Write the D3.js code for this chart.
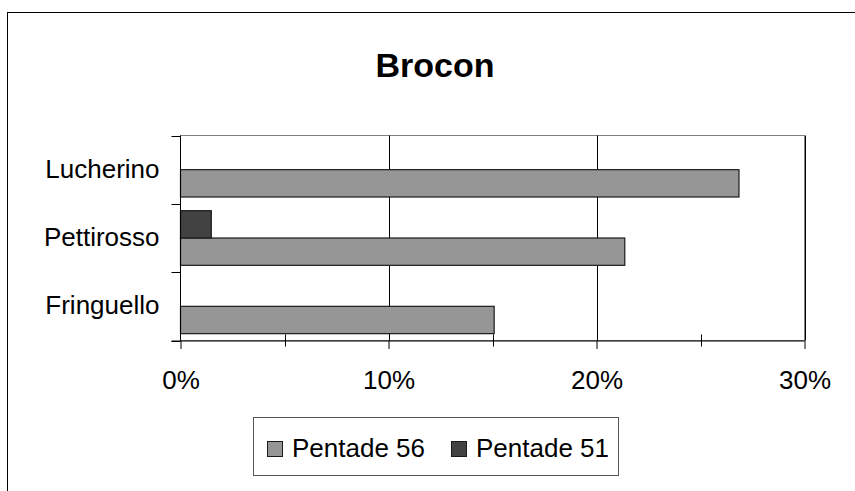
<!DOCTYPE html>
<html>
<head>
<meta charset="utf-8">
<script src="https://cdn.jsdelivr.net/npm/d3@7"></script>
<style>
  html, body { margin: 0; padding: 0; background: #fff; }
  svg { display: block; }
  text { font-family: "Liberation Sans", Arial, sans-serif; fill: #000; }
</style>
</head>
<body>
<svg id="chart" width="855" height="491"></svg>
<script>
// Share of captures per species at the Brocon station
const categories = ["Lucherino", "Pettirosso", "Fringuello"];
const seriesNames = ["Pentade 56", "Pentade 51"];
const pentade56 = [0.2685, 0.2136, 0.1508];
const pentade51 = [0, 0.0148, 0];
const seriesColors = ["#969696", "#424242"];
const majorTicks = [0, 0.1, 0.2, 0.3];
const minorTicks = [0.05, 0.15, 0.25];
const tickLabels = ["0%", "10%", "20%", "30%"];
const title = "Brocon";

const series = seriesNames.map((name, i) => ({
  name,
  color: seriesColors[i],
  values: i === 0 ? pentade56 : pentade51
}));

const svg = d3.select("#chart");
const plot = { left: 180.5, right: 804.5, top: 135.5, bottom: 340.5 };

// Outer chart frame (runs past the right and bottom edges)
svg.append("rect")
  .attr("x", 7.5).attr("y", 12.5)
  .attr("width", 900).attr("height", 520)
  .attr("fill", "#fff").attr("stroke", "#000").attr("stroke-width", 1);

svg.append("text")
  .attr("x", 435).attr("y", 76.5)
  .attr("text-anchor", "middle")
  .style("font-size", "34px").style("font-weight", "bold")
  .text(title);

const x = d3.scaleLinear().domain([0, 0.3]).range([plot.left, plot.right]);
const y = d3.scaleBand().domain(categories).range([plot.top, plot.bottom]).padding(0);
// Excel draws the first series at the bottom of each group
const ySeries = d3.scaleBand()
  .domain(seriesNames.slice().reverse())
  .range([0, y.bandwidth()])
  .paddingInner(0).paddingOuter(0.25);

// Plot area border
svg.append("rect")
  .attr("x", plot.left).attr("y", plot.top)
  .attr("width", plot.right - plot.left).attr("height", plot.bottom - plot.top)
  .attr("fill", "none").attr("stroke", "#808080").attr("stroke-width", 1);

// Vertical gridlines
svg.append("g").selectAll("line")
  .data(majorTicks.slice(1))
  .join("line")
  .attr("x1", d => Math.round(x(d)) + 0.5).attr("x2", d => Math.round(x(d)) + 0.5)
  .attr("y1", plot.top).attr("y2", plot.bottom)
  .attr("stroke", "#000").attr("stroke-width", 1);

// Bars
series.forEach(s => {
  svg.append("g").selectAll("rect")
    .data(categories.map((c, i) => ({ c, v: s.values[i] })).filter(d => d.v > 0))
    .join("rect")
    .attr("x", x(0))
    .attr("y", d => y(d.c) + ySeries(s.name))
    .attr("width", d => x(d.v) - x(0))
    .attr("height", ySeries.bandwidth())
    .attr("fill", s.color)
    .attr("stroke", "#1a1a1a").attr("stroke-width", 1.2);
});

// Category axis (left)
const yAxisG = svg.append("g").attr("transform", `translate(${plot.left},0)`);
yAxisG.append("line")
  .attr("x1", 0).attr("x2", 0).attr("y1", plot.top).attr("y2", plot.bottom)
  .attr("stroke", "#000");
const bounds = categories.map(c => y(c)).concat([plot.bottom]);
yAxisG.selectAll("line.tick")
  .data(bounds)
  .join("line").attr("class", "tick")
  .attr("x1", -9).attr("x2", 0)
  .attr("y1", d => Math.round(d) + 0.5).attr("y2", d => Math.round(d) + 0.5)
  .attr("stroke", "#000");
yAxisG.selectAll("text")
  .data(categories)
  .join("text")
  .attr("x", -21).attr("y", d => y(d) + y.bandwidth() / 2 + 8)
  .attr("text-anchor", "end")
  .style("font-size", "26px")
  .text(d => d);

// Value axis (bottom)
const xAxis = d3.axisBottom(x)
  .tickValues(majorTicks)
  .tickSize(8.5)
  .tickPadding(4)
  .tickFormat((d, i) => tickLabels[i]);
const xAxisG = svg.append("g")
  .attr("transform", `translate(0,${plot.bottom})`)
  .call(xAxis);
xAxisG.select(".domain").attr("d", `M${plot.left - 9},0.5H${plot.right}`).attr("stroke", "#000");
xAxisG.selectAll(".tick line").attr("stroke", "#000");
xAxisG.selectAll(".tick text")
  .attr("y", 48).attr("dy", null)
  .style("font-size", "26px")
  .style("font-family", "'Liberation Sans', Arial, sans-serif")
  .attr("fill", "#000");
svg.append("g").selectAll("line")
  .data(minorTicks)
  .join("line")
  .attr("x1", d => Math.round(x(d)) + 0.5).attr("x2", d => Math.round(x(d)) + 0.5)
  .attr("y1", plot.bottom - 6).attr("y2", plot.bottom + 6)
  .attr("stroke", "#000");

// Legend
const legend = svg.append("g");
legend.append("rect")
  .attr("x", 253.5).attr("y", 417.5).attr("width", 365).attr("height", 58)
  .attr("fill", "#fff").attr("stroke", "#555").attr("stroke-width", 1);
const legendX = [267, 451];
series.forEach((s, i) => {
  legend.append("rect")
    .attr("x", legendX[i] + 0.5).attr("y", 441.5).attr("width", 15).attr("height", 15)
    .attr("fill", s.color).attr("stroke", "#1a1a1a").attr("stroke-width", 1);
  legend.append("text")
    .attr("x", legendX[i] + 25).attr("y", 457)
    .style("font-size", "26px")
    .text(s.name);
});
</script>
</body>
</html>
